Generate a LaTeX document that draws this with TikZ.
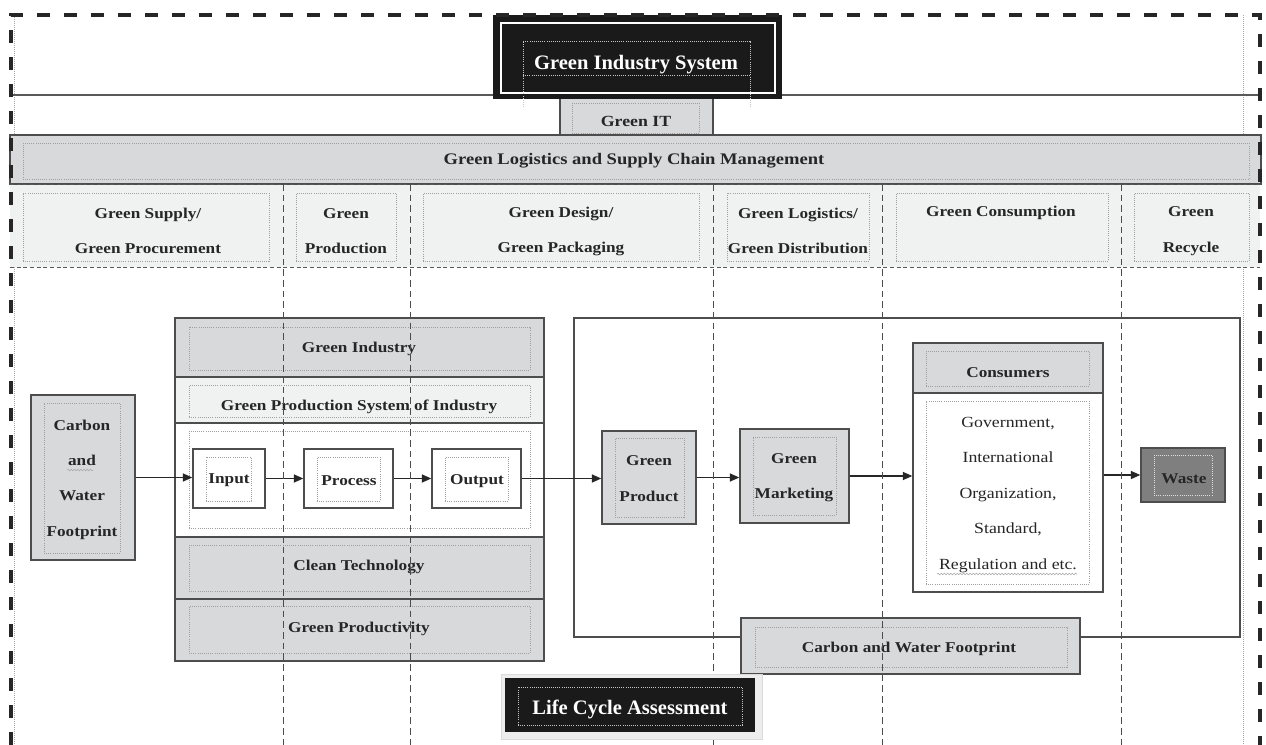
\documentclass[tikz,border=0pt]{standalone}
\usepackage{fontspec}
\setmainfont{Liberation Serif}
\newfontfamily\lblfont[FakeStretch=1.15]{Liberation Serif}
\usetikzlibrary{arrows.meta,fit,decorations.pathmorphing}

\definecolor{boxgray}{HTML}{D8D9DA}
\definecolor{palegray}{HTML}{F0F1F1}
\definecolor{edgegray}{HTML}{4D4D4D}
\definecolor{wastegray}{HTML}{7F7F7F}
\definecolor{inkblack}{HTML}{1A1A1A}

\begin{document}
\begin{tikzpicture}[x=0.75pt,y=-0.75pt,
  boxbase/.style={draw=edgegray, line width=1.1pt, inner sep=0pt},
  graybox/.style={boxbase, fill=boxgray},
  palebox/.style={boxbase, fill=palegray},
  whitebox/.style={boxbase, fill=white},
  dotframe/.style={draw=gray!75, densely dotted, line width=0.6pt, inner sep=0pt},
  lbltext/.style={font=\lblfont\bfseries\fontsize{11.25}{26.5}\selectfont, align=center, text=black!85, inner sep=0pt, yshift=-2pt},
  plaintext/.style={font=\lblfont\fontsize{11.6}{26.6}\selectfont, align=center, text=black!85, inner sep=0pt, yshift=-2pt},
  titletext/.style={font=\bfseries\fontsize{15.4}{18}\selectfont, text=white, inner sep=0pt, yshift=-2.5pt},
  arr/.style={-{Triangle[length=7pt,width=6pt]}, line width=0.9pt, draw=black!85},
  coldash/.style={dash pattern=on 5pt off 3pt, line width=0.6pt, draw=black!70},
  rowdash/.style={dash pattern=on 3pt off 2pt, line width=0.6pt, draw=black!65},
  outerframe/.style={dash pattern=on 9.75pt off 10.5pt, line width=3pt, draw=black!85},
  squiggle/.style={draw=gray!70, line width=0.4pt, decorate, decoration={snake, amplitude=0.6pt, segment length=2.4pt}},
]
\path[use as bounding box, fill=white] (0,0) rectangle (1266,745);

% thin guide lines inside the dashed frame
\draw[densely dotted, gray!70, line width=0.5pt] (14,15) -- (14,745);
\draw[densely dotted, gray!70, line width=0.5pt] (1243,15) -- (1243,745);

% stage header band
\fill[palegray] (10,184) rectangle (1260,267);
\node[dotframe, fit={(23,193)(269,261)}]   (hsup)  {};
\node[dotframe, fit={(296,193)(396,261)}]  (hprod) {};
\node[dotframe, fit={(423,193)(699,261)}]  (hdes)  {};
\node[dotframe, fit={(727,193)(869,261)}]  (hlog)  {};
\node[dotframe, fit={(896,193)(1108,261)}] (hcons) {};
\node[dotframe, fit={(1134,193)(1249,261)}] (hrec) {};
\node[lbltext] (hsup-t)  at (148,228.5)  {Green Supply/\\Green Procurement};
\node[lbltext] (hprod-t) at (346,228.5)  {Green\\Production};
\node[lbltext] (hdes-t)  at (561,228.5)  {Green Design/\\Green Packaging};
\node[lbltext] (hlog-t)  at (798,228.5)  {Green Logistics/\\Green Distribution};
\node[lbltext] (hcons-t) at (1001,210.5) {Green Consumption};
\node[lbltext] (hrec-t)  at (1191,228.5) {Green\\Recycle};

% supply chain band
\node[graybox, fit={(10,135)(1261,184)}] (glscm) {};
\node[dotframe, fit={(23,143)(1249,179)}] (glscm-in) {};
\node[lbltext, font=\lblfont\bfseries\fontsize{12.1}{14}\selectfont] (glscm-t) at (634,158) {Green Logistics and Supply Chain Management};

% Green IT
\node[graybox, fit={(560,96)(713,135)}] (git) {};
\node[dotframe, fit={(572,103)(699,133)}] (git-in) {};
\node[lbltext, font=\lblfont\bfseries\fontsize{11.6}{14}\selectfont] (git-t) at (636,119) {Green IT};

% system rule
\draw[black!65, line width=1.5pt] (10,95) -- (1260,95);

% system title
\node[fill=inkblack, inner sep=0pt, fit={(493,15)(782,99)}] (gis) {};
\draw[white, line width=1.2pt] (501,23) rectangle (775,93);
\draw[gray!45, densely dotted, line width=0.6pt] (523,107) -- (523,41) -- (750,41) -- (750,107) (523,75) -- (750,75);
\node[titletext] (gis-t) at (636,61) {Green Industry System};

% header band borders
\draw[rowdash] (10,184) -- (1260,184);
\draw[rowdash] (10,267) -- (1260,267);

% footprint input
\node[graybox, fit={(31,395)(135,560)}] (cwf) {};
\node[dotframe, fit={(44,403)(120,553)}] (cwf-in) {};
\node[lbltext] (cwf-t) at (82,477) {Carbon\\and\\Water\\Footprint};
\draw[squiggle] (67,470) -- (93,470);

% industry stack
\node[graybox, fit={(175,318)(544,377)}] (gi) {};
\node[palebox, fit={(175,377)(544,423)}] (gpsi) {};
\node[whitebox, fit={(175,423)(544,537)}] (iorow) {};
\node[graybox, fit={(175,537)(544,599)}] (ct) {};
\node[graybox, fit={(175,599)(544,661)}] (gp) {};
\node[dotframe, fit={(189,327)(530,370)}] (gi-in) {};
\node[dotframe, fit={(189,385)(530,417)}] (gpsi-in) {};
\node[dotframe, fit={(189,431)(530,528)}] (iorow-in) {};
\node[dotframe, fit={(189,545)(530,591)}] (ct-in) {};
\node[dotframe, fit={(189,606)(530,653)}] (gp-in) {};
\node[lbltext] (gi-t)   at (359,346) {Green Industry};
\node[lbltext] (gpsi-t) at (359,404) {Green Production System of Industry};
\node[lbltext] (ct-t)   at (359,564) {Clean Technology};
\node[lbltext] (gp-t)   at (359,626) {Green Productivity};

% input / process / output
\node[whitebox, fit={(193,449)(265,508)}] (input) {};
\node[dotframe, fit={(206,457)(251,501)}] (input-in) {};
\node[lbltext] (input-t) at (229,478) {Input};
\node[whitebox, fit={(304,449)(393,508)}] (process) {};
\node[dotframe, fit={(317,457)(380,501)}] (process-in) {};
\node[lbltext] (process-t) at (349,478) {Process};
\node[whitebox, fit={(432,449)(521,508)}] (output) {};
\node[dotframe, fit={(445,457)(508,501)}] (output-in) {};
\node[lbltext] (output-t) at (477,478) {Output};

% market side frame
\node[draw=edgegray, line width=0.8pt, inner sep=0pt, fit={(574,318)(1240,637)}] (chain) {};

\node[graybox, fit={(602,431)(696,524)}] (product) {};
\node[dotframe, fit={(615,438)(684,517)}] (product-in) {};
\node[lbltext] (product-t) at (649,476) {Green\\Product};

\node[graybox, fit={(740,429)(849,523)}] (market) {};
\node[dotframe, fit={(753,437)(836,515)}] (market-in) {};
\node[lbltext] (market-t) at (794,475) {Green\\Marketing};

\node[graybox, fit={(913,343)(1103,393)}] (chead) {};
\node[dotframe, fit={(926,351)(1089,386)}] (chead-in) {};
\node[lbltext] (chead-t) at (1008,370) {Consumers};
\node[whitebox, fit={(913,393)(1103,592)}] (cbody) {};
\node[dotframe, fit={(926,401)(1089,584)}] (cbody-in) {};
\node[plaintext] (cbody-t) at (1008,492) {Government,\\International\\Organization,\\Standard,\\Regulation and etc.};
\draw[squiggle] (937,574) -- (1077,574);

\node[boxbase, fill=wastegray, fit={(1141,448)(1225,502)}] (waste) {};
\node[dotframe, draw=gray!25, fit={(1154,455)(1212,495)}] (waste-in) {};
\node[lbltext] (waste-t) at (1184,476) {Waste};

\node[graybox, fit={(741,618)(1080,674)}] (cwfb) {};
\node[dotframe, fit={(755,627)(1067,667)}] (cwfb-in) {};
\node[lbltext] (cwfb-t) at (909,646) {Carbon and Water Footprint};

% flow
\draw[arr] (cwf.east) -- (cwf.east -| input.west);
\draw[arr] (input.east) -- (process.west);
\draw[arr] (process.east) -- (output.west);
\draw[arr] (output.east) -- (output.east -| product.west);
\draw[arr] (product.east) -- (product.east -| market.west);
\draw[arr] (market.east) -- (market.east -| cbody.west);
\draw[arr] (cbody.east |- waste.west) -- (waste.west);

% stage dividers
\foreach \cx in {283,410,713,882,1121}
  \draw[coldash] (\cx,184) -- (\cx,745);

% life cycle assessment
\node[fill=gray!14, draw=gray!28, line width=0.6pt, inner sep=0pt, fit={(501,674)(762,739)}] (lca-sh) {};
\node[fill=inkblack, inner sep=0pt, fit={(505,678)(755,732)}] (lca) {};
\node[dotframe, draw=gray!45, fit={(518,687)(742,725)}] (lca-in) {};
\node[titletext] (lca-t) at (630,706) {Life Cycle Assessment};

% outer dashed frame
\draw[outerframe] (11,745) -- (11,15) -- (1260,15) -- (1260,745);
\end{tikzpicture}
\end{document}
